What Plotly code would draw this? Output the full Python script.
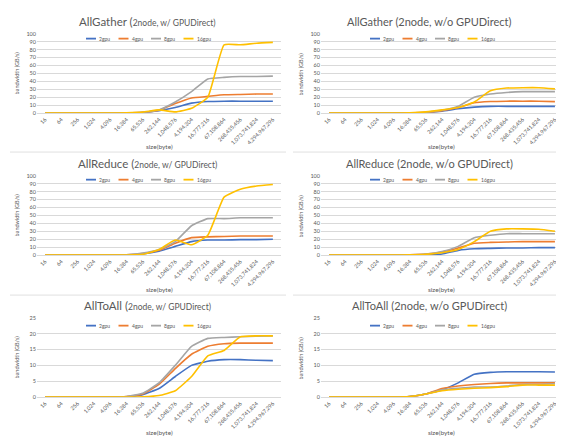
import plotly.graph_objects as go

sizes = ["16", "64", "256", "1,024", "4,096", "16,384", "65,536", "262,144",
         "1,048,576", "4,194,304", "16,777,216", "67,108,864", "268,435,456",
         "1,073,741,824", "4,294,967,296"]
series_names = ["2gpu", "4gpu", "8gpu", "16gpu"]

# AllGather, w/ GPUDirect
ag_w_2 = [0, 0, 0, 0, 0, 0.2, 0.8, 3, 7, 12.5, 14.5, 15, 15, 15, 15]
ag_w_4 = [0, 0, 0, 0, 0, 0.2, 0.9, 3.5, 12, 19, 21, 23, 23.5, 24, 24]
ag_w_8 = [0, 0, 0, 0, 0, 0.2, 1, 4, 14, 27, 43, 45, 46, 46, 46.5]
ag_w_16 = [0, 0, 0, 0, 0, 0.3, 1.2, 4, 1.5, 6, 20, 86, 86, 88, 89]
# AllGather, w/o GPUDirect
ag_wo_2 = [0, 0, 0, 0, 0, 0.1, 0.8, 2.5, 5.5, 7.5, 8.5, 8.5, 8.5, 8.5, 8.5]
ag_wo_4 = [0, 0, 0, 0, 0, 0.2, 1, 3, 7, 13, 14.5, 15, 15, 15, 14.5]
ag_wo_8 = [0, 0, 0, 0, 0, 0.2, 1, 3.5, 8.5, 20, 24, 26, 27, 27, 27]
ag_wo_16 = [0, 0, 0, 0, 0, 0.3, 1.5, 4, 7, 14, 28, 31.5, 32, 32, 30.5]
# AllReduce, w/ GPUDirect
ar_w_2 = [0, 0, 0, 0, 0, 0.3, 1.5, 5, 11, 17, 19, 19, 19.5, 19.5, 20]
ar_w_4 = [0, 0, 0, 0, 0, 0.4, 2, 6, 15, 22, 23, 23.5, 24, 24, 24]
ar_w_8 = [0, 0, 0, 0, 0, 0.5, 2.5, 7, 17, 37, 46, 46, 47, 47, 47]
ar_w_16 = [0, 0, 0, 0, 0, 0.2, 1, 7, 19, 13, 25, 73, 83, 87, 89]
# AllReduce, w/o GPUDirect
ar_wo_2 = [0, 0, 0, 0, 0, 0.1, 0.5, 1.5, 6, 8, 8.5, 9, 9, 9.5, 9.5]
ar_wo_4 = [0, 0, 0, 0, 0, 0.3, 1.2, 4, 9, 15, 16, 16.5, 17, 17, 17]
ar_wo_8 = [0, 0, 0, 0, 0, 0.3, 1.3, 4.5, 11, 22, 25, 27, 27, 27, 27]
ar_wo_16 = [0, 0, 0, 0, 0, 0.3, 1, 3, 7, 17, 30, 33, 33, 32.5, 30]
# AllToAll, w/ GPUDirect
aa_w_2 = [0, 0, 0, 0, 0, 0.1, 0.8, 2.7, 6.5, 10, 11.3, 11.8, 11.8, 11.6, 11.5]
aa_w_4 = [0, 0, 0, 0, 0, 0.2, 1, 4, 9, 13.5, 16, 16.8, 17, 17, 17]
aa_w_8 = [0, 0, 0, 0, 0, 0.2, 1.2, 4.5, 10, 16, 18.5, 18.8, 19, 19.2, 19.3]
aa_w_16 = [0, 0, 0, 0, 0, 0, 0.1, 0.5, 2, 6.5, 13, 14.7, 19, 19.3, 19.3]
# AllToAll, w/o GPUDirect
aa_wo_2 = [0, 0, 0, 0, 0, 0.2, 1, 2.3, 4.5, 7.2, 7.8, 8, 8, 8, 7.9]
aa_wo_4 = [0, 0, 0, 0, 0, 0.2, 1, 2.7, 3.5, 4, 4.3, 4.5, 4.5, 4.5, 4.5]
aa_wo_8 = [0, 0, 0, 0, 0, 0.2, 1, 2.3, 2.8, 3.2, 3.2, 3.5, 4, 4, 4.2]
aa_wo_16 = [0, 0, 0, 0, 0, 0.2, 1, 2, 2.5, 2.8, 3, 3.3, 3.8, 3.8, 3.8]

colors = ["#4472C4", "#ED7D31", "#A5A5A5", "#FFC000"]

panels = [
    ("AllGather", "2node, w/ GPUDirect", [ag_w_2, ag_w_4, ag_w_8, ag_w_16], 0, 0, 100, 10),
    ("AllGather", "2node, w/o GPUDirect", [ag_wo_2, ag_wo_4, ag_wo_8, ag_wo_16], 0, 1, 100, 10),
    ("AllReduce", "2node, w/ GPUDirect", [ar_w_2, ar_w_4, ar_w_8, ar_w_16], 1, 0, 100, 10),
    ("AllReduce", "2node, w/o GPUDirect", [ar_wo_2, ar_wo_4, ar_wo_8, ar_wo_16], 1, 1, 100, 10),
    ("AllToAll", "2node, w/ GPUDirect", [aa_w_2, aa_w_4, aa_w_8, aa_w_16], 2, 0, 25, 5),
    ("AllToAll", "2node, w/o GPUDirect", [aa_wo_2, aa_wo_4, aa_wo_8, aa_wo_16], 2, 1, 25, 5),
]

W, H = 564, 439
FONT = "Lato"
col_x = [(29, 273), (313, 555)]
col_center = [139, 421]
row_y = [(23, 103.5), (167, 247.5), (311, 391.5)]
title_y = [11, 155, 299]
legend_y = [28, 171, 319]
xtitle_y = [137, 282, 427]
sep_y = [143, 288]

def px(x):
    return x / W

def py(y):
    return 1 - y / H

fig = go.Figure()
annotations = []
shapes = []

for k, (name, sub, data, r, c, ymax, dt) in enumerate(panels):
    idx = "" if k == 0 else str(k + 1)
    xa, ya = "x" + idx, "y" + idx
    for s, vals in enumerate(data):
        fig.add_trace(go.Scatter(
            x=sizes, y=vals, mode="lines", name=series_names[s],
            line=dict(color=colors[s], width=1.6, shape="spline", smoothing=0.4),
            xaxis=xa, yaxis=ya, showlegend=False))
    x0, x1 = col_x[c]
    y0, y1 = row_y[r]
    fig.layout["xaxis" + idx] = dict(
        domain=[px(x0), px(x1)], anchor=ya, type="category",
        categoryorder="array", categoryarray=sizes,
        range=[-0.5, len(sizes) - 0.5], tickangle=-45,
        tickfont=dict(size=5.5, color="#595959", family=FONT),
        showgrid=False, showline=True, linecolor="#D9D9D9", linewidth=1,
        ticks="", fixedrange=True)
    fig.layout["yaxis" + idx] = dict(
        domain=[py(y1), py(y0)], anchor=xa, range=[0, ymax], dtick=dt,
        tickfont=dict(size=5.5, color="#595959", family=FONT),
        showgrid=True, gridcolor="#D9D9D9", gridwidth=0.8, zeroline=False,
        showline=False, ticks="", fixedrange=True)
    # title
    if c == 0:
        ttext = (f"<span style='font-size:11.5px'>{name} (</span>"
                 f"<span style='font-size:8.5px'>{sub})</span>")
    else:
        ttext = f"{name} ({sub})"
    annotations.append(dict(text=ttext, x=px(col_center[c]), y=py(title_y[r]),
                            xref="paper", yref="paper", showarrow=False,
                            xanchor="center", yanchor="middle",
                            font=dict(size=11, color="#595959", family=FONT)))
    # axis titles
    annotations.append(dict(text="size(byte)", x=px((x0 + x1) / 2), y=py(xtitle_y[r]),
                            xref="paper", yref="paper", showarrow=False,
                            xanchor="center", yanchor="middle",
                            font=dict(size=6.5, color="#595959", family=FONT)))
    annotations.append(dict(text="bandwidth (GB/s)", x=px(x0 - 20), y=py((y0 + y1) / 2),
                            xref="paper", yref="paper", showarrow=False, textangle=-90,
                            xanchor="center", yanchor="middle",
                            font=dict(size=5.5, color="#595959", family=FONT)))
    # legend
    lx = x0 + 49
    for s in range(4):
        sx = lx + s * 32.5
        shapes.append(dict(type="line", xref="paper", yref="paper",
                           x0=px(sx), x1=px(sx + 10), y0=py(legend_y[r]), y1=py(legend_y[r]),
                           line=dict(color=colors[s], width=1.8)))
        annotations.append(dict(text=series_names[s], x=px(sx + 11), y=py(legend_y[r]),
                                xref="paper", yref="paper", showarrow=False,
                                xanchor="left", yanchor="middle",
                                font=dict(size=5, color="#595959", family=FONT)))

for r in range(2):
    for c in range(2):
        xs = (2, 278) if c == 0 else (285, 561)
        shapes.append(dict(type="line", xref="paper", yref="paper",
                           x0=px(xs[0]), x1=px(xs[1]), y0=py(sep_y[r]), y1=py(sep_y[r]),
                           line=dict(color="#E0E0E0", width=1)))

fig.update_layout(width=W, height=H, margin=dict(l=0, r=0, t=0, b=0),
                  paper_bgcolor="white", plot_bgcolor="white",
                  annotations=annotations, shapes=shapes,
                  font=dict(family=FONT, color="#595959"))
fig.write_html("out.html")
